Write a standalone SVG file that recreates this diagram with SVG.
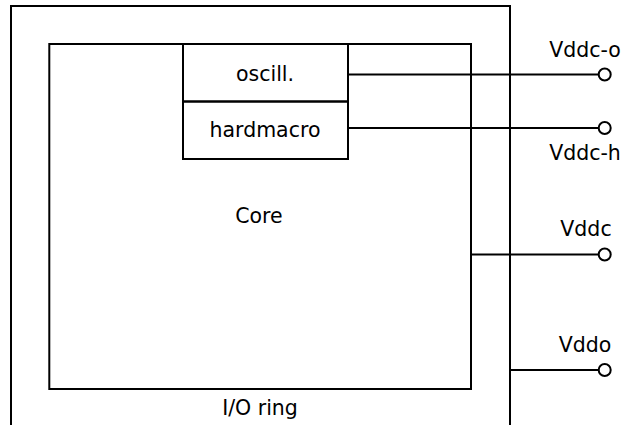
<svg xmlns="http://www.w3.org/2000/svg" width="625" height="425" viewBox="0 0 625 425">
<style>
.box{fill:none;stroke:#000;stroke-width:2}
.ln{fill:none;stroke:#000;stroke-width:2}
.pin{fill:#fff;stroke:#000;stroke-width:2}
text{font-family:"DejaVu Sans",Verdana,sans-serif;font-size:20.5px;fill:#000;text-anchor:middle}
</style>
<rect width="625" height="425" fill="#fff"/>
<g id="io-ring">
<path class="box" d="M11,426 V6 H510 V426"/>
<text x="260" y="415">I/O ring</text>
</g>
<g id="core">
<rect class="box" x="49.3" y="44" width="421.7" height="345"/>
<text x="259" y="223">Core</text>
</g>
<g id="oscill">
<rect class="box" x="183" y="44" width="165" height="57.5"/>
<text x="265" y="81">oscill.</text>
</g>
<g id="hardmacro">
<rect class="box" x="183" y="101.5" width="165" height="57.5"/>
<text x="265" y="137">hardmacro</text>
</g>
<g id="connectors">
<path class="ln" d="M348,74.5 H599"/>
<path class="ln" d="M348,128 H599"/>
<path class="ln" d="M471,254.5 H599"/>
<path class="ln" d="M510,370 H599"/>
</g>
<g id="pins">
<circle class="pin" cx="604.7" cy="74.5" r="6"/>
<circle class="pin" cx="604.7" cy="128" r="6"/>
<circle class="pin" cx="604.7" cy="254.5" r="6"/>
<circle class="pin" cx="604.7" cy="370" r="6"/>
<text x="585" y="57">Vddc-o</text>
<text x="585" y="160">Vddc-h</text>
<text x="586" y="236">Vddc</text>
<text x="585" y="352">Vddo</text>
</g>
</svg>
